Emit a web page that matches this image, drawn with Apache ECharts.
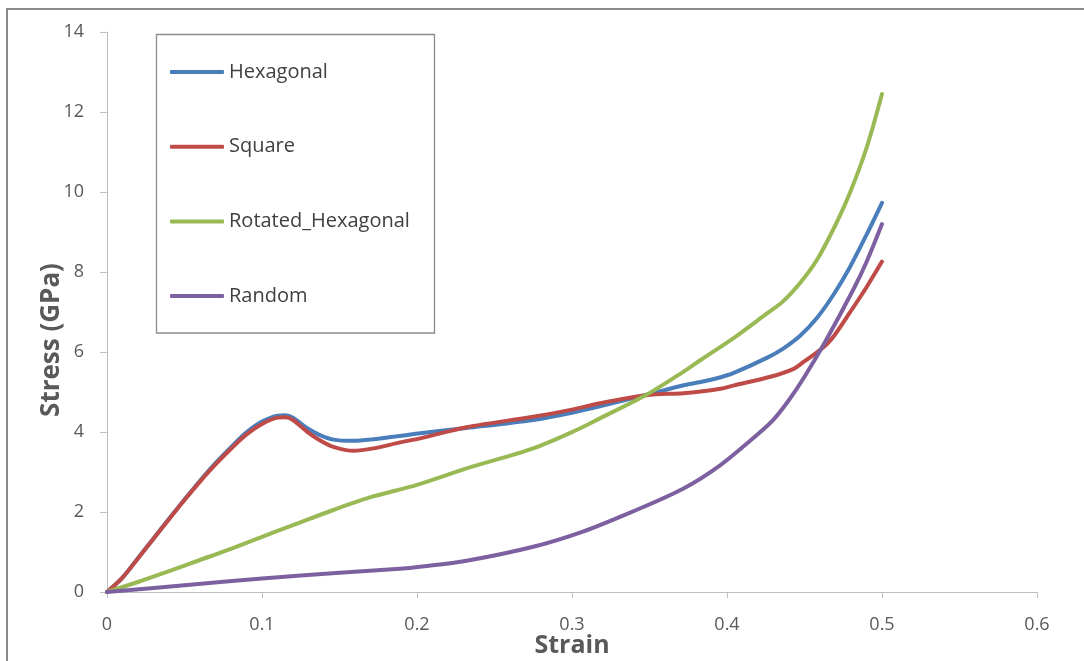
<!DOCTYPE html>
<html>
<head>
<meta charset="utf-8">
<title>Stress-strain curves</title>
<script src="https://cdn.jsdelivr.net/npm/echarts@6/dist/echarts.min.js"></script>
<style>
  html, body { margin: 0; padding: 0; background: #ffffff; }
  #chart { width: 1084px; height: 661px; }
</style>
</head>
<body>
<div id="chart"></div>
<script>
// Stress–strain responses of four lattice arrangements
const seriesNames = ['Hexagonal', 'Square', 'Rotated_Hexagonal', 'Random'];

const hexagonalStrain = [0, 0.01, 0.02, 0.03, 0.04, 0.05, 0.06, 0.07, 0.08, 0.09, 0.1, 0.11, 0.115, 0.12, 0.129, 0.137, 0.146, 0.159, 0.172, 0.189, 0.202, 0.232, 0.275, 0.3, 0.318, 0.348, 0.372, 0.383, 0.396, 0.404, 0.426, 0.436, 0.447, 0.458, 0.469, 0.479, 0.49, 0.5];
const hexagonalStress = [0, 0.36, 0.85, 1.34, 1.83, 2.31, 2.78, 3.22, 3.62, 3.99, 4.26, 4.41, 4.42, 4.36, 4.1, 3.93, 3.81, 3.78, 3.82, 3.9, 3.97, 4.1, 4.3, 4.48, 4.64, 4.93, 5.17, 5.25, 5.37, 5.47, 5.86, 6.08, 6.4, 6.85, 7.45, 8.1, 8.93, 9.73];

const squareStrain = [0, 0.01, 0.02, 0.03, 0.04, 0.05, 0.06, 0.07, 0.08, 0.09, 0.1, 0.11, 0.115, 0.12, 0.129, 0.137, 0.146, 0.159, 0.172, 0.189, 0.202, 0.232, 0.275, 0.3, 0.318, 0.348, 0.372, 0.383, 0.396, 0.404, 0.428, 0.443, 0.449, 0.458, 0.464, 0.469, 0.479, 0.49, 0.5];
const squareStress = [0, 0.36, 0.84, 1.33, 1.82, 2.3, 2.76, 3.19, 3.58, 3.94, 4.2, 4.36, 4.37, 4.3, 4.01, 3.8, 3.63, 3.53, 3.59, 3.74, 3.84, 4.12, 4.38, 4.56, 4.72, 4.92, 4.97, 5.01, 5.08, 5.16, 5.38, 5.58, 5.74, 5.99, 6.18, 6.4, 6.97, 7.62, 8.26];

const rotatedStrain = [0, 0.02, 0.04, 0.06, 0.08, 0.1, 0.12, 0.146, 0.17, 0.2, 0.232, 0.275, 0.303, 0.318, 0.348, 0.372, 0.383, 0.404, 0.426, 0.436, 0.447, 0.458, 0.469, 0.479, 0.49, 0.5];
const rotatedStress = [0, 0.25, 0.52, 0.8, 1.08, 1.38, 1.67, 2.05, 2.37, 2.68, 3.09, 3.59, 4.05, 4.34, 4.93, 5.51, 5.8, 6.34, 6.97, 7.26, 7.72, 8.3, 9.1, 9.95, 11.1, 12.45];

const randomStrain = [0, 0.05, 0.1, 0.15, 0.189, 0.202, 0.232, 0.275, 0.307, 0.339, 0.372, 0.396, 0.42, 0.43, 0.44, 0.45, 0.464, 0.482, 0.49, 0.5];
const randomStress = [0, 0.17, 0.34, 0.48, 0.58, 0.63, 0.78, 1.13, 1.51, 2.01, 2.59, 3.18, 3.95, 4.31, 4.8, 5.38, 6.3, 7.6, 8.25, 9.2];

const strainTicks = [0, 0.1, 0.2, 0.3, 0.4, 0.5, 0.6];
const stressTicks = [0, 2, 4, 6, 8, 10, 12, 14];

const palette = ['#4a7ebb', '#be4b48', '#98b954', '#7d60a0'];

function pairs(xs, ys) {
  return xs.map((x, i) => [x, ys[i]]);
}

const curves = [
  pairs(hexagonalStrain, hexagonalStress),
  pairs(squareStrain, squareStress),
  pairs(rotatedStrain, rotatedStress),
  pairs(randomStrain, randomStress)
];

const chart = echarts.init(document.getElementById('chart'), null, { renderer: 'canvas' });

const fontFamily = '"Open Sans", "DejaVu Sans", sans-serif';
const axisGray = '#bfbfbf';
const labelGray = '#595959';

chart.setOption({
  animation: false,
  backgroundColor: '#ffffff',
  color: palette,
  grid: { left: 107, right: 47, top: 32, bottom: 69, containLabel: false },
  xAxis: {
    type: 'value',
    min: strainTicks[0],
    max: strainTicks[strainTicks.length - 1],
    interval: 0.1,
    axisLine: { show: true, lineStyle: { color: axisGray, width: 1 } },
    axisTick: { show: true, length: 6, lineStyle: { color: axisGray } },
    splitLine: { show: false },
    axisLabel: {
      fontFamily, fontSize: 18, color: labelGray, margin: 24,
      formatter: v => String(Math.round(v * 10) / 10)
    }
  },
  yAxis: {
    type: 'value',
    min: stressTicks[0],
    max: stressTicks[stressTicks.length - 1],
    interval: 2,
    axisLine: { show: true, lineStyle: { color: axisGray, width: 1 } },
    axisTick: { show: true, length: 7, lineStyle: { color: axisGray } },
    splitLine: { show: false },
    axisLabel: { fontFamily, fontSize: 18, color: labelGray, margin: 23 }
  },
  legend: {
    orient: 'vertical',
    left: 170,
    top: 62,
    padding: 0,
    itemWidth: 54,
    itemHeight: 4,
    itemGap: 54.7,
    icon: 'roundRect',
    textStyle: { fontFamily, fontSize: 20, color: '#404040', lineHeight: 20 },
    data: seriesNames
  },
  graphic: [
    {
      // outer chart frame
      type: 'rect', silent: true, z: 0,
      shape: { x: 7, y: 9, width: 1200, height: 800 },
      style: { fill: 'none', stroke: '#8a8a8a', lineWidth: 2 }
    },
    {
      // legend box
      type: 'rect', silent: true, z: 0,
      shape: { x: 156.5, y: 34.5, width: 278, height: 298.5 },
      style: { fill: '#ffffff', stroke: '#8c8c8c', lineWidth: 1.3 }
    },
    {
      // x axis title
      type: 'text', silent: true, z: 5,
      x: 572, y: 646,
      style: {
        text: 'Strain', fontFamily, fontSize: 25, fontWeight: 'bold',
        fill: labelGray, align: 'center', verticalAlign: 'middle'
      }
    },
    {
      // y axis title
      type: 'text', silent: true, z: 5,
      x: 52, y: 340, rotation: Math.PI / 2,
      style: {
        text: 'Stress (GPa)', fontFamily, fontSize: 26, fontWeight: 'bold',
        fill: labelGray, align: 'center', verticalAlign: 'middle'
      }
    }
  ],
  series: seriesNames.map((name, i) => ({
    name,
    type: 'line',
    data: curves[i],
    smooth: 0.3,
    symbol: 'none',
    lineStyle: { width: 4, color: palette[i], cap: 'round', join: 'round' },
    z: 3
  }))
});
</script>
</body>
</html>
